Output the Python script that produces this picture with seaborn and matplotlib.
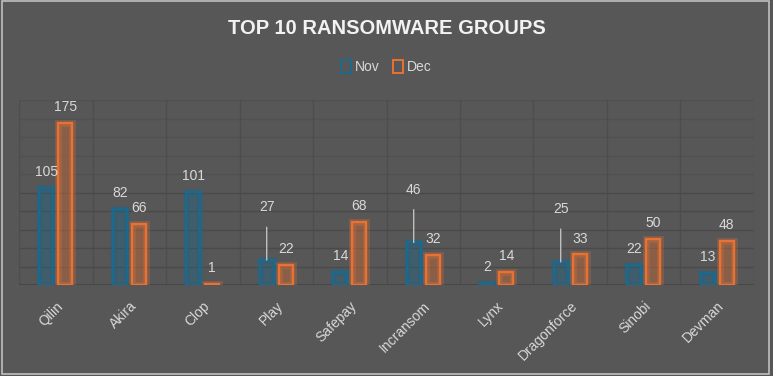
import numpy as np
import pandas as pd
import matplotlib
matplotlib.use('Agg')
import matplotlib.pyplot as plt
import matplotlib.patheffects as pe
from matplotlib.patches import Patch, Rectangle
import seaborn as sns

# ====================== DATA ======================
groups = ['Qilin', 'Akira', 'Clop', 'Play', 'Safepay', 'Incransom',
          'Lynx', 'Dragonforce', 'Sinobi', 'Devman']
nov = [105, 82, 101, 27, 14, 46, 2, 25, 22, 13]
dec = [175, 66, 1, 22, 68, 32, 14, 33, 50, 48]
months = ['Nov', 'Dec']
leader_labels = ['Play', 'Incransom', 'Dragonforce']   # Nov labels pulled up with a line

BG = '#575757'
GRID = '#4a4a4a'
TXT = '#d9d9d9'
COLORS = {'Nov': '#1b6a8e', 'Dec': '#e97132'}

df = pd.DataFrame({'group': groups * 2,
                   'month': ['Nov'] * len(groups) + ['Dec'] * len(groups),
                   'count': nov + dec})

sns.set_style('dark')
plt.rcParams['font.family'] = ['Liberation Sans', 'DejaVu Sans']

fig = plt.figure(figsize=(7.73, 3.76), dpi=100, facecolor=BG)
ax = fig.add_axes([0.0246, 0.242, 0.9508, 0.492])
ax.set_facecolor(BG)

sns.barplot(data=df, x='group', y='count', hue='month', order=groups,
            hue_order=months, palette=COLORS, width=0.52, gap=0.27,
            fill=False, linewidth=1.6, legend=False, ax=ax)

for cont, m in zip(ax.containers, months):
    for p in cont:
        p.set_facecolor(matplotlib.colors.to_rgba(COLORS[m], 0.08))
        p.set_path_effects([pe.withStroke(linewidth=5, foreground=COLORS[m], alpha=0.25),
                            pe.Normal()])

# value labels
for cont, m, vals in zip(ax.containers, months, [nov, dec]):
    for p, v, g in zip(cont, vals, groups):
        xc = p.get_x() + p.get_width() / 2
        top = p.get_height()
        if m == 'Nov' and g in leader_labels:
            ax.annotate(str(v), (xc, top), xytext=(0, 38), textcoords='offset points',
                        ha='center', va='center', color=TXT, fontsize=10,
                        arrowprops=dict(arrowstyle='-', color='#bfbfbf', lw=1,
                                        shrinkA=7, shrinkB=0))
        else:
            ax.annotate(str(v), (xc, top), xytext=(0, 11.5), textcoords='offset points',
                        ha='center', va='center', color=TXT, fontsize=10)

# grid
ax.set_ylim(0, 200)
ax.set_xlim(-0.5, len(groups) - 0.5)
for yv in range(20, 201, 20):
    a = 1.0 if yv <= 100 else 0.45
    ax.axhline(yv, color=GRID, lw=1, alpha=a, zorder=0)
for xv in np.arange(-0.5, len(groups), 1):
    ax.axvline(xv, color=GRID, lw=1, alpha=0.7, zorder=0)
ax.axhline(0, color='#474747', lw=1.5, zorder=0)

ax.set_yticks([])
ax.set_xlabel('')
ax.set_ylabel('')
ax.tick_params(axis='x', length=0, pad=10, colors=TXT)
ax.set_xticks(range(len(groups)))
ax.set_xticklabels(groups, rotation=45, ha='right', rotation_mode='anchor',
                   fontsize=10, color=TXT)
for s in ax.spines.values():
    s.set_visible(False)

fig.text(0.5, 0.925, 'TOP 10 RANSOMWARE GROUPS', ha='center', va='center',
         fontsize=14.5, fontweight='bold', color='#f2f2f2')

handles = [Patch(facecolor='none', edgecolor=COLORS[m], lw=1.4, label=m) for m in months]
leg = fig.legend(handles=handles, loc='center', bbox_to_anchor=(0.5, 0.822), ncol=2,
                 frameon=False, fontsize=10, handlelength=0.7, handleheight=1.1,
                 handletextpad=0.3, columnspacing=1.0)
for t in leg.get_texts():
    t.set_color(TXT)

fig.patches.append(Rectangle((0.002, 0.004), 0.993, 0.993, transform=fig.transFigure,
                             fill=False, edgecolor='#bfbfbf', lw=1.2))

plt.savefig('out.png', dpi=100, facecolor=BG)
